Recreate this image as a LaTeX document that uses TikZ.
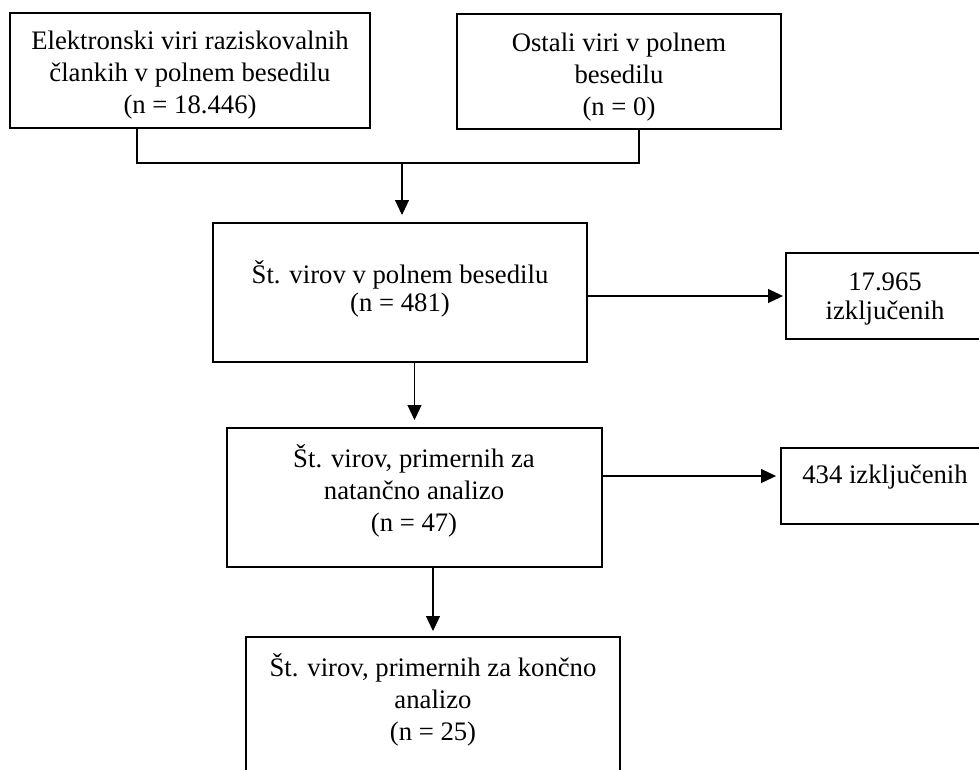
\documentclass[tikz,border=0pt]{standalone}
\usepackage{fontspec}
\setmainfont{Liberation Serif}
\usepackage{tikz}
\usetikzlibrary{arrows.meta,positioning,calc}
\tikzset{
  flowbox/.style={draw=black,line width=1.4pt,inner sep=0pt,outer sep=0pt},
  boxlabel/.style={align=center,inner sep=0pt,
    font=\fontsize{15.2pt}{18.4pt}\selectfont},
  tightlabel/.style={boxlabel,font=\fontsize{15.2pt}{16pt}\selectfont},
  joinline/.style={line width=0.6pt},
  flowarrow/.style={-{Triangle[length=0.3cm,width=0.28cm]},line width=0.6pt}
}
\begin{document}
\begin{tikzpicture}[x=0.02cm,y=-0.02cm]
  \useasboundingbox (0,0) rectangle (979,769);
  \clip (0,0) rectangle (979,769);
  % sources
  \node[flowbox,minimum width=7.2cm,minimum height=2.3cm] (elektr) at (190,70.5) {};
  \node[boxlabel] (elektr-t) at (190,75) {Elektronski viri raziskovalnih\\člankih v polnem besedilu\\(n = 18.446)};
  \node[flowbox,minimum width=6.48cm,minimum height=2.3cm] (ostali) at (619,71.5) {};
  \node[boxlabel] (ostali-t) at (619,77) {Ostali viri v polnem\\besedilu\\(n = 0)};
  % screening
  \node[flowbox,minimum width=7.48cm,minimum height=2.78cm] (polno) at (400,292.5) {};
  \node[tightlabel] (polno-t) at (400,289) {Št. virov v polnem besedilu\\(n = 481)};
  \node[flowbox,minimum width=3.98cm,minimum height=1.72cm] (izkl1) at (885.5,296) {};
  \node[tightlabel] (izkl1-t) at (885,299) {17.965\\izključenih};
  \node[flowbox,minimum width=7.5cm,minimum height=2.78cm] (natancno) at (414.5,497.5) {};
  \node[boxlabel] (natancno-t) at (414,491) {Št. virov, primernih za\\natančno analizo\\(n = 47)};
  \node[flowbox,minimum width=4.16cm,minimum height=1.52cm] (izkl2) at (885,486) {};
  \node[boxlabel] (izkl2-t) at (885,477) {434 izključenih};
  \node[flowbox,minimum width=7.48cm,minimum height=3.26cm] (koncno) at (433,718.5) {};
  \node[boxlabel] (koncno-t) at (433,700) {Št. virov, primernih za končno\\analizo\\(n = 25)};
  % connectors
  \coordinate (splitL) at (137,163);
  \coordinate (splitR) at (639,163);
  \coordinate (split) at (402,163);
  \coordinate (izkl2in) at ([yshift=0.2cm]izkl2.west);
  \draw[joinline] (elektr.south -| splitL) -- (splitL) -- (splitR) -- (ostali.south -| splitR);
  \draw[flowarrow,shorten >=0.16cm] (split) -- (split |- polno.north);
  \draw[flowarrow,shorten >=0.06cm] (polno.east |- izkl1.west) -- (izkl1.west);
  \draw[flowarrow,shorten >=0.16cm] (polno.south -| natancno.north) -- (natancno.north);
  \draw[flowarrow,shorten >=0.1cm] (natancno.east |- izkl2in) -- (izkl2in);
  \draw[flowarrow,shorten >=0.12cm] (natancno.south -| koncno.north) -- (koncno.north);
\end{tikzpicture}
\end{document}
